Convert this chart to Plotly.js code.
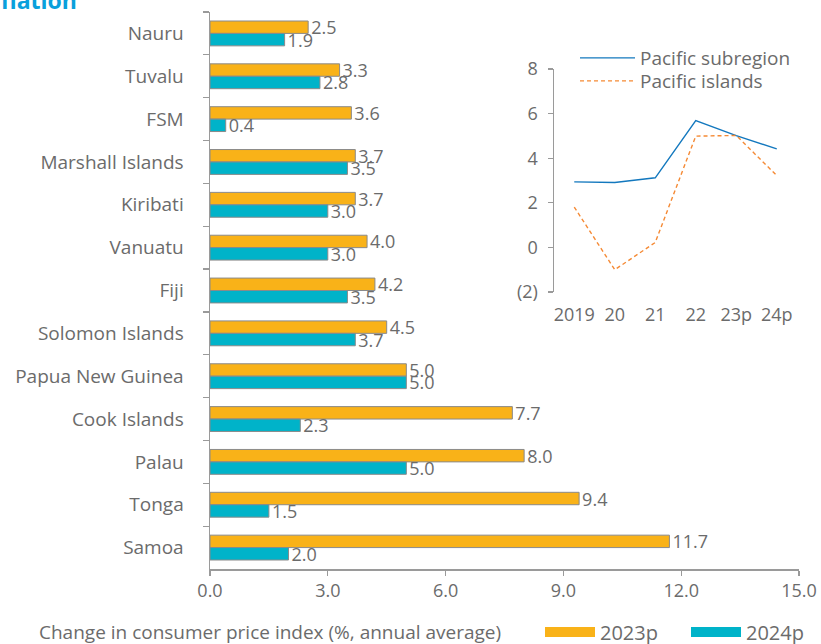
<!DOCTYPE html>
<html>
<head>
<meta charset="utf-8">
<script src="https://cdn.plot.ly/plotly-3.0.1.min.js"></script>
<style>html,body{margin:0;padding:0;background:#fff;}#chart{width:821px;height:644px;}</style>
</head>
<body>
<div id="chart"></div>
<script>
// ---- Data ----
const economies = ["Nauru","Tuvalu","FSM","Marshall Islands","Kiribati","Vanuatu","Fiji","Solomon Islands","Papua New Guinea","Cook Islands","Palau","Tonga","Samoa"];
const cpi2023p = [2.5,3.3,3.6,3.7,3.7,4.0,4.2,4.5,5.0,7.7,8.0,9.4,11.7];
const cpi2024p = [1.9,2.8,0.4,3.5,3.0,3.0,3.5,3.7,5.0,2.3,5.0,1.5,2.0];

const years = ["2019","20","21","22","23p","24p"];
const pacificSubregion = [2.94,2.91,3.12,5.69,5.01,4.42];
const pacificIslands = [1.81,-1.0,0.22,4.99,5.02,3.22];

const xTicks = [0,3,6,9,12,15];
const insetYTicks = [-2,0,2,4,6,8];
const insetYLabels = ["(2)","0","2","4","6","8"];

// ---- Style ----
const FONT = "'Open Sans', Lato, sans-serif";
const FS = 18;     // numbers
const FW = 19;     // words
const GRAY = "#6b6b6b";
const AXIS = "#9a9a9a";
const ORANGE = "#F9B218";
const TEAL = "#00B3C9";
const BORDER = "#8a8a8a";

const traces = [
  {type:"bar", orientation:"h", name:"2023p", y:economies, x:cpi2023p,
   marker:{color:ORANGE, line:{color:BORDER, width:1}},
   text:cpi2023p.map(v=>v.toFixed(1)), textposition:"outside", constraintext:"none", cliponaxis:false,
   textfont:{family:FONT, size:FS, color:GRAY}, showlegend:false, xaxis:"x", yaxis:"y", hoverinfo:"x"},
  {type:"bar", orientation:"h", name:"2024p", y:economies, x:cpi2024p,
   marker:{color:TEAL, line:{color:BORDER, width:1}},
   text:cpi2024p.map(v=>v.toFixed(1)), textposition:"outside", constraintext:"none", cliponaxis:false,
   textfont:{family:FONT, size:FS, color:GRAY}, showlegend:false, xaxis:"x", yaxis:"y", hoverinfo:"x"},
  // legend swatches for the bars
  {type:"scatter", mode:"lines", name:"2023p", x:[null], y:[null], line:{color:ORANGE, width:15},
   legend:"legend", xaxis:"x", yaxis:"y", hoverinfo:"skip"},
  {type:"scatter", mode:"lines", name:"2024p", x:[null], y:[null], line:{color:TEAL, width:15},
   legend:"legend", xaxis:"x", yaxis:"y", hoverinfo:"skip"},
  // inset lines
  {type:"scatter", mode:"lines", name:"Pacific subregion", x:years, y:pacificSubregion,
   line:{color:"#1378BE", width:1.4}, xaxis:"x2", yaxis:"y2", legend:"legend2", cliponaxis:false},
  {type:"scatter", mode:"lines", name:"Pacific islands", x:years, y:pacificIslands,
   line:{color:"#F58A35", width:1.4, dash:"4px,3px"}, xaxis:"x2", yaxis:"y2", legend:"legend3", cliponaxis:false}
];

const L = 210, R = 22, T = 12, B = 75;
const W = 821 - L - R, H = 644 - T - B;
const px2x = p => (p - L) / W;
const py2y = p => (644 - B - p) / H;

const inX0 = px2x(554), inX1 = px2x(797);
const inY0 = py2y(292), inY1 = py2y(69);
const zeroPos = inY0 + (0 - (-2)) / 10 * (inY1 - inY0);

const legendCommon = {bgcolor:"rgba(0,0,0,0)", tracegroupgap:0, font:{size:FW, color:GRAY}};

const layout = {
  width:821, height:644,
  margin:{l:L, r:R, t:T, b:B, pad:0, autoexpand:false},
  paper_bgcolor:"#fff", plot_bgcolor:"rgba(0,0,0,0)",
  font:{family:FONT, size:FS, color:GRAY},
  barmode:"group", bargap:0.42, bargroupgap:0,
  xaxis:{domain:[0,1], range:[0,15], tickvals:xTicks, tickformat:".1f", ticks:"outside", ticklen:5,
         tickcolor:AXIS, tickwidth:1.2, showline:true, linecolor:AXIS, linewidth:1.5, showgrid:false, zeroline:false,
         ticklabelstandoff:0, tickfont:{size:FS, color:GRAY}},
  yaxis:{domain:[0,1], type:"category", categoryarray:economies, range:[12.5,-0.5], tickson:"boundaries",
         ticks:"outside", ticklen:6, tickcolor:AXIS, tickwidth:1.2, showline:true, linecolor:AXIS, linewidth:1.5,
         showgrid:false, zeroline:false, ticklabelstandoff:21, tickfont:{size:FW, color:GRAY}},
  xaxis2:{domain:[inX0,inX1], anchor:"y2", type:"category", range:[-0.5,5.5], showline:false, ticks:"outside",
          ticklen:6, tickcolor:"rgba(0,0,0,0)", showgrid:false, zeroline:false, tickfont:{size:FS, color:GRAY}},
  xaxis3:{overlaying:"x2", anchor:"free", position:zeroPos, side:"bottom", range:[-0.5,5.5],
          tickvals:[0.5,1.5,2.5,3.5,4.5,5.5], showticklabels:false, ticks:"outside", ticklen:5,
          tickcolor:AXIS, tickwidth:1.2, showline:true, linecolor:AXIS, linewidth:1.5, showgrid:false, zeroline:false},
  yaxis2:{domain:[inY0,inY1], anchor:"x2", range:[-2,8], tickvals:insetYTicks, ticktext:insetYLabels,
          ticks:"outside", ticklen:5, tickcolor:AXIS, tickwidth:1.2, showline:true, linecolor:AXIS, linewidth:1.5,
          showgrid:false, zeroline:false, ticklabelstandoff:6, tickfont:{size:FS, color:GRAY}},
  legend:Object.assign({}, legendCommon, {orientation:"h", x:px2x(540), xanchor:"left", y:py2y(632), yanchor:"middle",
          font:{size:20, color:GRAY}, itemwidth:50, entrywidth:81, entrywidthmode:"pixels"}),
  legend2:Object.assign({}, legendCommon, {orientation:"v", x:px2x(575), xanchor:"left", y:py2y(58), yanchor:"middle",
          itemwidth:55}),
  legend3:Object.assign({}, legendCommon, {orientation:"v", x:px2x(575), xanchor:"left", y:py2y(81), yanchor:"middle",
          itemwidth:55}),
  annotations:[
    {xref:"paper", yref:"paper", x:px2x(79), y:py2y(0), xanchor:"right", yanchor:"middle",
     text:"<b>Inflation</b>", showarrow:false, font:{size:23, color:"#0AA0DC"}},
    {xref:"paper", yref:"paper", x:px2x(270), y:py2y(632), xanchor:"center", yanchor:"middle",
     text:"Change in consumer price index (%, annual average)", showarrow:false, font:{size:FW, color:GRAY}}
  ]
};

Plotly.newPlot("chart", traces, layout, {displayModeBar:false, staticPlot:true});
</script>
</body>
</html>
